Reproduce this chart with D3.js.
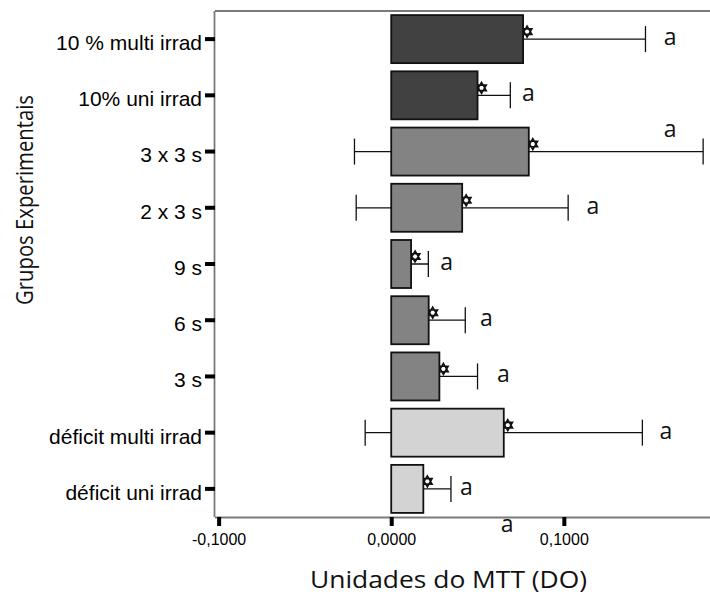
<!DOCTYPE html>
<html>
<head>
<meta charset="utf-8">
<script src="https://cdn.jsdelivr.net/npm/d3@7"></script>
<style>
  html, body { margin: 0; padding: 0; background: #fff; }
  svg { display: block; }
</style>
</head>
<body>
<svg id="chart" width="710" height="596"></svg>
<script>
// Experimental groups (top to bottom)
const categories = [
  "10 % multi irrad",
  "10% uni irrad",
  "3 x 3 s",
  "2 x 3 s",
  "9 s",
  "6 s",
  "3 s",
  "déficit multi irrad",
  "déficit uni irrad"
];
// Mean MTT optical density per group
const means = [0.0764, 0.0500, 0.0797, 0.0411, 0.0115, 0.0217, 0.0279, 0.0652, 0.0186];
// Error-bar half width per group
const errors = [0.0709, 0.0190, 0.1010, 0.0614, 0.0100, 0.0212, 0.0221, 0.0803, 0.0160];
// Group shade class: 0 = 10 %, 1 = time groups, 2 = déficit
const shadeClass = [0, 0, 1, 1, 1, 1, 1, 2, 2];
// Significance letters and where they sit along the value axis
const letters = ["a", "a", "a", "a", "a", "a", "a", "a", "a"];
const letterAt = [0.1616, 0.0795, 0.1616, 0.1169, 0.0321, 0.0552, 0.0650, 0.1591, 0.0436];
const letterRaised = [false, false, true, false, false, false, false, false, false];
// Extra letter below the value axis
const extraLetter = { text: "a", at: 0.0671 };
// Value-axis extent and tick values
const xDomain = [-0.1021, 0.1841];
const xTicks = [-0.1, 0, 0.1];

const shades = ["#414141", "#838383", "#d3d3d3"];

const svg = d3.select("#chart");
const plotL = 215, plotR = 709, plotT = 11, plotB = 517;

const x = d3.scaleLinear().domain(xDomain).range([plotL, plotR]);
const y = d3.scaleBand().domain(categories).range([plotT, plotB])
  .paddingInner(0.146).paddingOuter(0.073);

const rows = categories.map((c, i) => ({
  cat: c, mean: means[i], err: errors[i], shade: shades[shadeClass[i]],
  letter: letters[i], letterAt: letterAt[i], raised: letterRaised[i]
}));

// Frame: top border
svg.append("line")
  .attr("x1", plotL).attr("x2", 710)
  .attr("y1", plotT).attr("y2", plotT)
  .attr("stroke", "#7a7a7a").attr("stroke-width", 2);

// Error bars (drawn under the bars)
const eb = svg.append("g").attr("stroke", "#111").attr("stroke-width", 1.3).attr("fill", "none");
rows.forEach(d => {
  const yc = y(d.cat) + y.bandwidth() / 2;
  const lo = x(d.mean - d.err), hi = x(d.mean + d.err);
  eb.append("line").attr("x1", lo).attr("x2", hi).attr("y1", yc).attr("y2", yc);
  eb.append("line").attr("x1", lo).attr("x2", lo).attr("y1", yc - 13).attr("y2", yc + 13);
  eb.append("line").attr("x1", hi).attr("x2", hi).attr("y1", yc - 13).attr("y2", yc + 13);
});

// Mean markers: small hexagram at the end of each bar
function hexagram(r) {
  const p = [];
  for (const rot of [-90, 90]) {
    const pts = [0, 1, 2].map(k => {
      const a = (rot + k * 120) * Math.PI / 180;
      return [r * Math.cos(a), r * Math.sin(a)];
    });
    p.push("M" + pts.map(q => q.join(",")).join("L") + "Z");
  }
  return p.join("");
}
svg.append("g").selectAll("path").data(rows).join("path")
  .attr("d", hexagram(5.5))
  .attr("transform", d => `translate(${x(d.mean) + 4},${y(d.cat) + y.bandwidth() / 2 - 7.5})`)
  .attr("fill", "none").attr("stroke", "#111").attr("stroke-width", 1.6);

// Bars
svg.append("g").selectAll("rect").data(rows).join("rect")
  .attr("x", d => x(Math.min(0, d.mean)))
  .attr("width", d => Math.abs(x(d.mean) - x(0)))
  .attr("y", d => y(d.cat))
  .attr("height", y.bandwidth())
  .attr("fill", d => d.shade)
  .attr("stroke", "#111").attr("stroke-width", 1.8);

// Significance letters
svg.append("g").selectAll("text").data(rows).join("text")
  .attr("x", d => x(d.letterAt))
  .attr("y", d => y(d.cat) + y.bandwidth() / 2 + (d.raised ? -14.5 : 6))
  .attr("text-anchor", "middle")
  .attr("font-family", "'Open Sans', 'Noto Sans', sans-serif")
  .attr("font-size", 23)
  .attr("fill", "#111")
  .text(d => d.letter);

svg.append("text")
  .attr("x", x(extraLetter.at))
  .attr("y", plotB + 15)
  .attr("text-anchor", "middle")
  .attr("font-family", "'Open Sans', 'Noto Sans', sans-serif")
  .attr("font-size", 23)
  .attr("fill", "#111")
  .text(extraLetter.text);

// Axes
const fmt = v => d3.format(".4f")(v).replace(".", ",").replace("−", "-");

const xAxis = svg.append("g")
  .attr("transform", `translate(0,${plotB})`)
  .call(d3.axisBottom(x).tickValues(xTicks).tickFormat(fmt).tickSize(9).tickPadding(0).tickSizeOuter(0));
xAxis.select(".domain").attr("stroke", "#7a7a7a").attr("stroke-width", 1.8)
  .attr("d", `M${plotL},0.5H710`);
xAxis.selectAll(".tick line").attr("stroke", "#000").attr("stroke-width", 4);
xAxis.selectAll(".tick text")
  .attr("y", 28).attr("dy", null)
  .attr("font-family", "'Liberation Sans', Arial, sans-serif")
  .attr("font-size", 16).attr("fill", "#000");

const yAxis = svg.append("g")
  .attr("transform", `translate(${plotL},0)`)
  .call(d3.axisLeft(y).tickSize(10).tickPadding(3).tickSizeOuter(0));
yAxis.select(".domain").attr("stroke", "#7a7a7a").attr("stroke-width", 1.8)
  .attr("d", `M-0.5,${plotT}V${plotB}`);
yAxis.selectAll(".tick line").attr("stroke", "#000").attr("stroke-width", 4);
yAxis.selectAll(".tick text")
  .attr("dy", "0.52em")
  .attr("font-family", "'Liberation Sans', Arial, sans-serif")
  .attr("font-size", 21).attr("fill", "#000");

// Axis titles
svg.append("text")
  .attr("x", 448.5).attr("y", 588)
  .attr("text-anchor", "middle")
  .attr("font-family", "'Open Sans', 'Noto Sans', sans-serif")
  .attr("font-size", 23)
  .attr("textLength", 277).attr("lengthAdjust", "spacingAndGlyphs")
  .attr("fill", "#111")
  .text("Unidades do MTT (DO)");

svg.append("text")
  .attr("transform", "translate(33,200) rotate(-90)")
  .attr("text-anchor", "middle")
  .attr("font-family", "'Open Sans', 'Noto Sans', sans-serif")
  .attr("font-size", 24)
  .attr("textLength", 210).attr("lengthAdjust", "spacingAndGlyphs")
  .attr("fill", "#111")
  .text("Grupos Experimentais");
</script>
</body>
</html>
